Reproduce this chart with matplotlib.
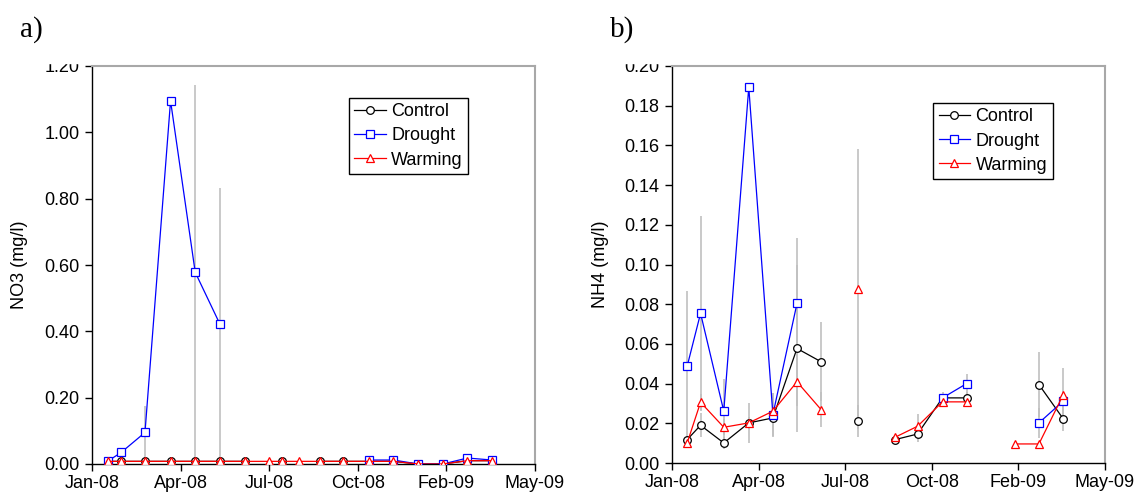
import numpy as np
import matplotlib
matplotlib.use('Agg')
import matplotlib.pyplot as plt
from matplotlib.patches import Rectangle

plt.rcParams['font.family'] = ['Liberation Sans', 'DejaVu Sans']
plt.rcParams['font.size'] = 13

nan = np.nan

# sampling dates shared by both panels
sample_dates = np.array(['2008-01-27', '2008-02-11', '2008-03-08', '2008-04-05', '2008-05-02',
                         '2008-05-29', '2008-06-25', '2008-07-22', '2008-08-05', '2008-08-24',
                         '2008-09-16', '2008-10-11', '2008-11-08', '2008-12-05', '2009-01-01',
                         '2009-01-28', '2009-02-24', '2009-03-23'], dtype='datetime64[D]')

# x axis ticks (equally spaced, as in the original)
tick_dates = np.array(['2008-01-10', '2008-04-16', '2008-07-22', '2008-10-27',
                       '2009-02-01', '2009-05-09'], dtype='datetime64[D]')
tick_labels = ['Jan-08', 'Apr-08', 'Jul-08', 'Oct-08', 'Feb-09', 'May-09']

# panel a) NO3 (mg/l)
no3_control = [0.008, 0.008, 0.008, 0.008, 0.008, 0.008, 0.008, nan, 0.008, nan,
               0.008, 0.008, 0.008, 0.008, 0.0, 0.0, 0.010, 0.010]
no3_drought = [0.008, 0.035, 0.095, 1.095, 0.578, 0.422, nan, nan, nan, nan,
               nan, nan, 0.012, 0.012, 0.0, 0.0, 0.018, 0.012]
no3_warming = [0.008, 0.008, 0.008, 0.008, 0.008, 0.008, 0.008, 0.008, 0.008, 0.008,
               0.008, 0.008, 0.008, 0.008, 0.0, 0.0, 0.010, 0.010]
no3_drought_err = [0, 0, 0.080, 0, 0.565, 0.410, 0, 0, 0, 0, 0, 0, 0, 0, 0, 0, 0, 0]

# panel b) NH4 (mg/l)
nh4_control = [0.0118, 0.0190, 0.0101, 0.0202, 0.0227, 0.0577, 0.0510, nan, 0.0210, nan,
               0.0118, 0.0146, 0.0328, 0.0328, nan, nan, 0.0395, 0.0224]
nh4_drought = [0.0488, 0.0754, 0.0261, 0.1893, 0.0244, 0.0804, nan, nan, nan, nan,
               nan, nan, 0.0328, 0.0400, nan, nan, 0.0202, 0.0311]
nh4_warming = [0.0101, 0.0306, 0.0180, 0.0202, 0.0261, 0.0409, 0.0269, nan, 0.0875, nan,
               0.0130, 0.0185, 0.0308, 0.0308, nan, 0.0096, 0.0096, 0.0342]
nh4_control_err = [0.002, 0.006, 0.003, 0.010, 0.0096, 0.042, 0.020, 0, 0.008, 0,
                   0.001, 0.004, 0.003, 0.003, 0, 0, 0.0165, 0.0064]
nh4_drought_err = [0.038, 0.049, 0.016, 0, 0.011, 0.033, 0, 0, 0, 0,
                   0, 0, 0.002, 0.005, 0, 0, 0.0076, 0.005]
nh4_warming_err = [0.001, 0.004, 0.004, 0.003, 0.0092, 0.012, 0.009, 0, 0.0705, 0,
                   0.001, 0.006, 0.002, 0.002, 0, 0, 0, 0.0138]

styles = {
    'Control': dict(color='black', marker='o', markersize=5.5),
    'Drought': dict(color='#0000ff', marker='s', markersize=5.5),
    'Warming': dict(color='#ff0000', marker='^', markersize=6),
}


def draw_panel(ax, series, errors, ymax, ystep, ylabel, legend_anchor):
    # grey error bars behind the lines
    for name in series:
        ax.errorbar(sample_dates, series[name], yerr=errors[name], fmt='none',
                    ecolor='#c0c0c0', elinewidth=1.2, capsize=0, zorder=1)
    for name in series:
        st = styles[name]
        ax.plot(sample_dates, series[name], color=st['color'], lw=0.9,
                marker=st['marker'], markersize=st['markersize'],
                markerfacecolor='white', markeredgecolor=st['color'],
                markeredgewidth=0.9, label=name, zorder=3)

    ax.set_xlim(tick_dates[0], tick_dates[-1])
    ax.set_xticks(tick_dates)
    ax.set_xticklabels(tick_labels)
    ax.set_ylim(0, ymax)
    ax.set_yticks(np.arange(0, ymax + ystep / 2, ystep))
    ax.yaxis.set_major_formatter(plt.FormatStrFormatter('%.2f'))
    ax.set_ylabel(ylabel)
    ax.yaxis.set_label_coords(-0.145, 0.5)

    for side in ['top', 'right']:
        ax.spines[side].set_color('#a8a8a8')
        ax.spines[side].set_linewidth(1.5)
    for side in ['left', 'bottom']:
        ax.spines[side].set_linewidth(1.0)
    ax.tick_params(direction='out', length=5, width=1, top=False, right=False)
    ax.tick_params(axis='y', pad=4)
    ax.tick_params(axis='x', pad=3)

    leg = ax.legend(loc='upper left', bbox_to_anchor=legend_anchor, numpoints=1,
                    fancybox=False, framealpha=1, edgecolor='black',
                    handlelength=1.75, handletextpad=0.3, labelspacing=0.4,
                    borderpad=0.3, borderaxespad=0)
    leg.get_frame().set_linewidth(1.0)


fig = plt.figure(figsize=(11.37, 5.0), dpi=100)
ax_a = fig.add_axes([92 / 1137, 36 / 500, 443 / 1137, 398 / 500])
ax_b = fig.add_axes([672 / 1137, 37 / 500, 433 / 1137, 397 / 500])

draw_panel(ax_a,
           {'Control': no3_control, 'Drought': no3_drought, 'Warming': no3_warming},
           {'Control': [0] * 18, 'Drought': no3_drought_err, 'Warming': [0] * 18},
           1.2, 0.2, 'NO3 (mg/l)', (0.58, 0.92))
draw_panel(ax_b,
           {'Control': nh4_control, 'Drought': nh4_drought, 'Warming': nh4_warming},
           {'Control': nh4_control_err, 'Drought': nh4_drought_err, 'Warming': nh4_warming_err},
           0.2, 0.02, 'NH4 (mg/l)', (0.603, 0.907))

fig.text(20 / 1137, 1 - 37 / 500, 'a)', family=['Liberation Serif'], fontsize=21, va='baseline')
fig.text(610 / 1137, 1 - 37 / 500, 'b)', family=['Liberation Serif'], fontsize=21, va='baseline')

# the original figure has the top of the highest y tick label cut off
for x0 in [30, 610]:
    fig.add_artist(Rectangle((x0 / 1137, 1 - 63 / 500), 59 / 1137, 18 / 500,
                             transform=fig.transFigure, color='white', zorder=10))

fig.savefig('out.png', dpi=100)
